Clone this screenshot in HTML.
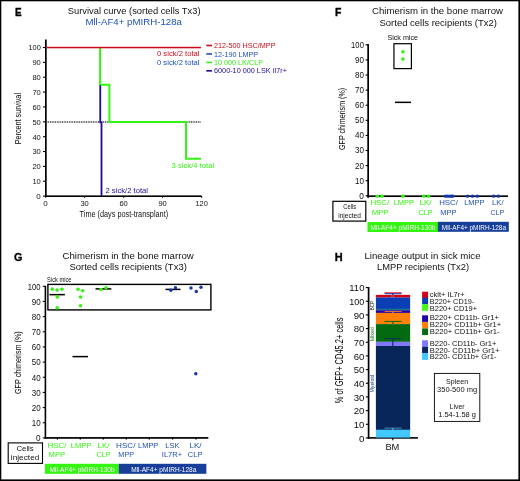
<!DOCTYPE html>
<html><head><meta charset="utf-8"><title>Figure</title>
<style>
html,body{margin:0;padding:0;background:#fff;}
body{width:520px;height:481px;overflow:hidden;position:relative;font-family:"Liberation Sans",sans-serif;}
svg{position:absolute;left:0;top:0;display:block;will-change:transform;}
svg text{font-family:"Liberation Sans",sans-serif;}
</style></head><body>
<svg width="520" height="481" viewBox="0 0 520 481">
<rect x="0" y="0" width="520" height="481" fill="#fff"/>
<rect x="0" y="0" width="520" height="1.3" fill="#000"/>
<rect x="0" y="0" width="1.3" height="481" fill="#000"/>
<rect x="518.4" y="0" width="1.6" height="481" fill="#000"/>
<rect x="0" y="479.4" width="520" height="1.6" fill="#000"/>
<text x="14.9" y="16" font-size="11" fill="#000" textLength="6.6" lengthAdjust="spacingAndGlyphs" font-weight="bold" stroke="#000" stroke-width="0.35">E</text>
<text x="67.8" y="14.1" font-size="9" fill="#111" textLength="132.7" lengthAdjust="spacingAndGlyphs" >Survival curve (sorted cells Tx3)</text>
<text x="85.4" y="24.5" font-size="9" fill="#1f50b8" textLength="96.6" lengthAdjust="spacingAndGlyphs" >Mll-AF4+ pMIRH-128a</text>
<rect x="45" y="39.5" width="1.7" height="157.5" fill="#000"/>
<rect x="45" y="195.4" width="156.4" height="1.6" fill="#000"/>
<line x1="43" y1="196.1" x2="45.5" y2="196.1" stroke="#000" stroke-width="1.1" />
<text x="40.8" y="199.0" font-size="8" fill="#111" text-anchor="end" >0</text>
<line x1="43" y1="181.24" x2="45.5" y2="181.24" stroke="#000" stroke-width="1.1" />
<text x="40.8" y="184.14000000000001" font-size="8" fill="#111" text-anchor="end" textLength="8.4" lengthAdjust="spacingAndGlyphs" >10</text>
<line x1="43" y1="166.38" x2="45.5" y2="166.38" stroke="#000" stroke-width="1.1" />
<text x="40.8" y="169.28" font-size="8" fill="#111" text-anchor="end" textLength="8.4" lengthAdjust="spacingAndGlyphs" >20</text>
<line x1="43" y1="151.51999999999998" x2="45.5" y2="151.51999999999998" stroke="#000" stroke-width="1.1" />
<text x="40.8" y="154.42" font-size="8" fill="#111" text-anchor="end" textLength="8.4" lengthAdjust="spacingAndGlyphs" >30</text>
<line x1="43" y1="136.66" x2="45.5" y2="136.66" stroke="#000" stroke-width="1.1" />
<text x="40.8" y="139.56" font-size="8" fill="#111" text-anchor="end" textLength="8.4" lengthAdjust="spacingAndGlyphs" >40</text>
<line x1="43" y1="121.8" x2="45.5" y2="121.8" stroke="#000" stroke-width="1.1" />
<text x="40.8" y="124.7" font-size="8" fill="#111" text-anchor="end" textLength="8.4" lengthAdjust="spacingAndGlyphs" >50</text>
<line x1="43" y1="106.94" x2="45.5" y2="106.94" stroke="#000" stroke-width="1.1" />
<text x="40.8" y="109.84" font-size="8" fill="#111" text-anchor="end" textLength="8.4" lengthAdjust="spacingAndGlyphs" >60</text>
<line x1="43" y1="92.08" x2="45.5" y2="92.08" stroke="#000" stroke-width="1.1" />
<text x="40.8" y="94.98" font-size="8" fill="#111" text-anchor="end" textLength="8.4" lengthAdjust="spacingAndGlyphs" >70</text>
<line x1="43" y1="77.22" x2="45.5" y2="77.22" stroke="#000" stroke-width="1.1" />
<text x="40.8" y="80.12" font-size="8" fill="#111" text-anchor="end" textLength="8.4" lengthAdjust="spacingAndGlyphs" >80</text>
<line x1="43" y1="62.359999999999985" x2="45.5" y2="62.359999999999985" stroke="#000" stroke-width="1.1" />
<text x="40.8" y="65.25999999999999" font-size="8" fill="#111" text-anchor="end" textLength="8.4" lengthAdjust="spacingAndGlyphs" >90</text>
<line x1="43" y1="47.5" x2="45.5" y2="47.5" stroke="#000" stroke-width="1.1" />
<text x="40.8" y="50.4" font-size="8" fill="#111" text-anchor="end" textLength="12.4" lengthAdjust="spacingAndGlyphs" >100</text>
<line x1="45.6" y1="196" x2="45.6" y2="197.8" stroke="#000" stroke-width="1.1" />
<text x="45.6" y="206.2" font-size="8" fill="#111" text-anchor="middle" >0</text>
<line x1="84.6" y1="196" x2="84.6" y2="197.8" stroke="#000" stroke-width="1.1" />
<text x="84.6" y="206.2" font-size="8" fill="#111" text-anchor="middle" textLength="8.4" lengthAdjust="spacingAndGlyphs" >30</text>
<line x1="123.6" y1="196" x2="123.6" y2="197.8" stroke="#000" stroke-width="1.1" />
<text x="123.6" y="206.2" font-size="8" fill="#111" text-anchor="middle" textLength="8.4" lengthAdjust="spacingAndGlyphs" >60</text>
<line x1="162.6" y1="196" x2="162.6" y2="197.8" stroke="#000" stroke-width="1.1" />
<text x="162.6" y="206.2" font-size="8" fill="#111" text-anchor="middle" textLength="8.4" lengthAdjust="spacingAndGlyphs" >90</text>
<line x1="201.6" y1="196" x2="201.6" y2="197.8" stroke="#000" stroke-width="1.1" />
<text x="201.6" y="206.2" font-size="8" fill="#111" text-anchor="middle" textLength="12.4" lengthAdjust="spacingAndGlyphs" >120</text>
<text x="21.3" y="144.3" font-size="8.8" fill="#000" textLength="51.3" lengthAdjust="spacingAndGlyphs" transform="rotate(-90 21.3 144.3)" >Percent survival</text>
<text x="79.6" y="217.3" font-size="8.8" fill="#111" textLength="88.5" lengthAdjust="spacingAndGlyphs" >Time (days post-transplant)</text>
<line x1="46.5" y1="122.05" x2="200.6" y2="122.05" stroke="#222" stroke-width="1.6" stroke-dasharray="0.9 0.82"/>
<polyline fill="none" stroke="#33f510" stroke-width="2" points="100.1,47.5 100.1,84.7 109.4,84.7 109.4,121.95 186,121.95 186,158.85 201,158.85"/>
<rect x="46.5" y="46.8" width="154.4" height="1.5" fill="#cc0a1a"/>
<polyline fill="none" stroke="#1d0c9c" stroke-width="1.8" points="100.25,85.2 100.25,122.3 101.5,122.3 101.5,196.1"/>
<text x="199.5" y="56.3" font-size="7" fill="#cc0a1a" text-anchor="end" textLength="42.5" lengthAdjust="spacingAndGlyphs" >0 sick/2 total</text>
<text x="199.5" y="65" font-size="7" fill="#1f50b8" text-anchor="end" textLength="42.5" lengthAdjust="spacingAndGlyphs" >0 sick/2 total</text>
<text x="171.6" y="168.1" font-size="7" fill="#33f510" textLength="42.5" lengthAdjust="spacingAndGlyphs" >3 sick/4 total</text>
<text x="105.5" y="193" font-size="7" fill="#1d0c9c" textLength="42.5" lengthAdjust="spacingAndGlyphs" >2 sick/2 total</text>
<rect x="206.3" y="44.7" width="5.7" height="1.6" fill="#cc0a1a"/>
<text x="214" y="48.1" font-size="7.2" fill="#cc0a1a" textLength="61.5" lengthAdjust="spacingAndGlyphs" >212-500 HSC/MPP</text>
<rect x="206.3" y="53.15" width="5.7" height="1.6" fill="#1f50b8"/>
<text x="214" y="56.550000000000004" font-size="7.2" fill="#1f50b8" textLength="44" lengthAdjust="spacingAndGlyphs" >12-190 LMPP</text>
<rect x="206.3" y="61.6" width="5.7" height="1.6" fill="#33f510"/>
<text x="214" y="65.0" font-size="7.2" fill="#33f510" textLength="49" lengthAdjust="spacingAndGlyphs" >10 000 LK/CLP</text>
<rect x="206.3" y="70.05" width="5.7" height="1.6" fill="#1d0c9c"/>
<text x="214" y="73.44999999999999" font-size="7.2" fill="#1d0c9c" textLength="73" lengthAdjust="spacingAndGlyphs" >6000-10 000 LSK Il7r+</text>
<text x="334.9" y="16" font-size="11" fill="#000" textLength="6.4" lengthAdjust="spacingAndGlyphs" font-weight="bold" stroke="#000" stroke-width="0.35">F</text>
<text x="372" y="14.1" font-size="9" fill="#111" textLength="131" lengthAdjust="spacingAndGlyphs" >Chimerism in the bone marrow</text>
<text x="379.5" y="25.5" font-size="9" fill="#111" textLength="117.5" lengthAdjust="spacingAndGlyphs" >Sorted cells recipients (Tx2)</text>
<rect x="367.3" y="44.1" width="1.7" height="153.7" fill="#000"/>
<rect x="367.3" y="195.35" width="140.6" height="1.7" fill="#000"/>
<rect x="365.6" y="195.25" width="2.4" height="1.1" fill="#000"/>
<text x="363.9" y="198.70000000000002" font-size="8.3" fill="#111" text-anchor="end" >0</text>
<rect x="365.6" y="180.15" width="2.4" height="1.1" fill="#000"/>
<text x="363.9" y="183.60000000000002" font-size="8.3" fill="#111" text-anchor="end" textLength="9" lengthAdjust="spacingAndGlyphs" >10</text>
<rect x="365.6" y="165.05" width="2.4" height="1.1" fill="#000"/>
<text x="363.9" y="168.50000000000003" font-size="8.3" fill="#111" text-anchor="end" textLength="9" lengthAdjust="spacingAndGlyphs" >20</text>
<rect x="365.6" y="149.95" width="2.4" height="1.1" fill="#000"/>
<text x="363.9" y="153.4" font-size="8.3" fill="#111" text-anchor="end" textLength="9" lengthAdjust="spacingAndGlyphs" >30</text>
<rect x="365.6" y="134.85" width="2.4" height="1.1" fill="#000"/>
<text x="363.9" y="138.3" font-size="8.3" fill="#111" text-anchor="end" textLength="9" lengthAdjust="spacingAndGlyphs" >40</text>
<rect x="365.6" y="119.75" width="2.4" height="1.1" fill="#000"/>
<text x="363.9" y="123.20000000000002" font-size="8.3" fill="#111" text-anchor="end" textLength="9" lengthAdjust="spacingAndGlyphs" >50</text>
<rect x="365.6" y="104.65" width="2.4" height="1.1" fill="#000"/>
<text x="363.9" y="108.10000000000002" font-size="8.3" fill="#111" text-anchor="end" textLength="9" lengthAdjust="spacingAndGlyphs" >60</text>
<rect x="365.6" y="89.55" width="2.4" height="1.1" fill="#000"/>
<text x="363.9" y="93.00000000000001" font-size="8.3" fill="#111" text-anchor="end" textLength="9" lengthAdjust="spacingAndGlyphs" >70</text>
<rect x="365.6" y="74.45" width="2.4" height="1.1" fill="#000"/>
<text x="363.9" y="77.90000000000002" font-size="8.3" fill="#111" text-anchor="end" textLength="9" lengthAdjust="spacingAndGlyphs" >80</text>
<rect x="365.6" y="59.35" width="2.4" height="1.1" fill="#000"/>
<text x="363.9" y="62.800000000000004" font-size="8.3" fill="#111" text-anchor="end" textLength="9" lengthAdjust="spacingAndGlyphs" >90</text>
<rect x="365.6" y="44.25" width="2.4" height="1.1" fill="#000"/>
<text x="363.9" y="47.70000000000001" font-size="8.3" fill="#111" text-anchor="end" textLength="12.8" lengthAdjust="spacingAndGlyphs" >100</text>
<text x="345" y="150" font-size="9" fill="#000" textLength="62.2" lengthAdjust="spacingAndGlyphs" transform="rotate(-90 345 150)" >GFP chimerism (%)</text>
<text x="387.4" y="40.3" font-size="7.3" fill="#111" textLength="30.6" lengthAdjust="spacingAndGlyphs" >Sick mice</text>
<rect x="393.95" y="43.7" width="17.45" height="24.9" fill="none" stroke="#000" stroke-width="1.2"/>
<circle cx="402.9" cy="51.8" r="1.8" fill="#33f510"/>
<circle cx="402.9" cy="59.1" r="1.8" fill="#33f510"/>
<rect x="395" y="101.6" width="16" height="1.5" fill="#000"/>
<circle cx="377.3" cy="196.15" r="1.75" fill="#33f510"/>
<circle cx="382.1" cy="196.15" r="1.75" fill="#33f510"/>
<circle cx="402.9" cy="196.15" r="1.75" fill="#33f510"/>
<circle cx="423.75" cy="196.15" r="1.75" fill="#33f510"/>
<circle cx="428.5" cy="196.15" r="1.75" fill="#33f510"/>
<circle cx="445.5" cy="196.15" r="1.7" fill="#1235b0"/>
<circle cx="447.5" cy="196.15" r="1.7" fill="#1235b0"/>
<circle cx="449.5" cy="196.15" r="1.7" fill="#1235b0"/>
<circle cx="451.5" cy="196.15" r="1.7" fill="#1235b0"/>
<circle cx="452.7" cy="196.15" r="1.7" fill="#1235b0"/>
<circle cx="467.5" cy="196.15" r="1.7" fill="#1235b0"/>
<circle cx="472.4" cy="196.15" r="1.7" fill="#1235b0"/>
<circle cx="477.3" cy="196.15" r="1.7" fill="#1235b0"/>
<circle cx="493.6" cy="196.15" r="1.7" fill="#1235b0"/>
<circle cx="498.4" cy="196.15" r="1.7" fill="#1235b0"/>
<rect x="332.9" y="201.3" width="32.9" height="19.8" fill="#fff" stroke="#000" stroke-width="1.2"/>
<text x="349.8" y="208.7" font-size="7.4" fill="#111" text-anchor="middle" textLength="12.9" lengthAdjust="spacingAndGlyphs" >Cells</text>
<text x="349.5" y="217.7" font-size="7.4" fill="#111" text-anchor="middle" textLength="22.6" lengthAdjust="spacingAndGlyphs" >injected</text>
<text x="370.4" y="205.4" font-size="7.8" fill="#33f510" textLength="18.9" lengthAdjust="spacingAndGlyphs" >HSC/</text>
<text x="371.7" y="214.8" font-size="7.8" fill="#33f510" textLength="16.8" lengthAdjust="spacingAndGlyphs" >MPP</text>
<text x="393.7" y="205.4" font-size="7.8" fill="#33f510" textLength="20.4" lengthAdjust="spacingAndGlyphs" >LMPP</text>
<text x="419.5" y="205.4" font-size="7.8" fill="#33f510" textLength="12.1" lengthAdjust="spacingAndGlyphs" >LK/</text>
<text x="418.5" y="214.8" font-size="7.8" fill="#33f510" textLength="14.1" lengthAdjust="spacingAndGlyphs" >CLP</text>
<text x="439.2" y="205.4" font-size="7.8" fill="#1f50b8" textLength="18.8" lengthAdjust="spacingAndGlyphs" >HSC/</text>
<text x="440.3" y="214.8" font-size="7.8" fill="#1f50b8" textLength="16.2" lengthAdjust="spacingAndGlyphs" >MPP</text>
<text x="464.2" y="205.4" font-size="7.8" fill="#1f50b8" textLength="20.2" lengthAdjust="spacingAndGlyphs" >LMPP</text>
<text x="492.1" y="205.4" font-size="7.8" fill="#1f50b8" textLength="11.4" lengthAdjust="spacingAndGlyphs" >LK/</text>
<text x="490.4" y="214.8" font-size="7.8" fill="#1f50b8" textLength="13.7" lengthAdjust="spacingAndGlyphs" >CLP</text>
<rect x="367.5" y="222" width="70.5" height="10" fill="#33f510"/>
<rect x="437.9" y="221.8" width="70.9" height="10" fill="#173f9a"/>
<text x="370.5" y="229.5" font-size="7.6" fill="#fff" textLength="65" lengthAdjust="spacingAndGlyphs" >Mll-AF4+ pMIRH-130b</text>
<text x="441.8" y="229.5" font-size="7.6" fill="#fff" textLength="64.2" lengthAdjust="spacingAndGlyphs" >Mll-AF4+ pMIRH-128a</text>
<text x="14.1" y="260.6" font-size="11" fill="#000" textLength="8.4" lengthAdjust="spacingAndGlyphs" font-weight="bold" stroke="#000" stroke-width="0.35">G</text>
<text x="62.5" y="259" font-size="9" fill="#111" textLength="131.2" lengthAdjust="spacingAndGlyphs" >Chimerism in the bone marrow</text>
<text x="69.5" y="270.3" font-size="9" fill="#111" textLength="117.3" lengthAdjust="spacingAndGlyphs" >Sorted cells recipients (Tx3)</text>
<rect x="44.6" y="285.8" width="1.6" height="152.9" fill="#000"/>
<rect x="44.6" y="437.05" width="163.7" height="1.7" fill="#000"/>
<rect x="42.8" y="437.35" width="2.2" height="1.1" fill="#000"/>
<text x="40.6" y="441.2" font-size="8.2" fill="#111" text-anchor="end" >0</text>
<rect x="42.8" y="422.19" width="2.2" height="1.1" fill="#000"/>
<text x="40.6" y="426.03999999999996" font-size="8.2" fill="#111" text-anchor="end" textLength="8.9" lengthAdjust="spacingAndGlyphs" >10</text>
<rect x="42.8" y="407.03" width="2.2" height="1.1" fill="#000"/>
<text x="40.6" y="410.88" font-size="8.2" fill="#111" text-anchor="end" textLength="8.9" lengthAdjust="spacingAndGlyphs" >20</text>
<rect x="42.8" y="391.87" width="2.2" height="1.1" fill="#000"/>
<text x="40.6" y="395.71999999999997" font-size="8.2" fill="#111" text-anchor="end" textLength="8.9" lengthAdjust="spacingAndGlyphs" >30</text>
<rect x="42.8" y="376.71" width="2.2" height="1.1" fill="#000"/>
<text x="40.6" y="380.56" font-size="8.2" fill="#111" text-anchor="end" textLength="8.9" lengthAdjust="spacingAndGlyphs" >40</text>
<rect x="42.8" y="361.55" width="2.2" height="1.1" fill="#000"/>
<text x="40.6" y="365.4" font-size="8.2" fill="#111" text-anchor="end" textLength="8.9" lengthAdjust="spacingAndGlyphs" >50</text>
<rect x="42.8" y="346.39" width="2.2" height="1.1" fill="#000"/>
<text x="40.6" y="350.23999999999995" font-size="8.2" fill="#111" text-anchor="end" textLength="8.9" lengthAdjust="spacingAndGlyphs" >60</text>
<rect x="42.8" y="331.23" width="2.2" height="1.1" fill="#000"/>
<text x="40.6" y="335.08" font-size="8.2" fill="#111" text-anchor="end" textLength="8.9" lengthAdjust="spacingAndGlyphs" >70</text>
<rect x="42.8" y="316.07" width="2.2" height="1.1" fill="#000"/>
<text x="40.6" y="319.92" font-size="8.2" fill="#111" text-anchor="end" textLength="8.9" lengthAdjust="spacingAndGlyphs" >80</text>
<rect x="42.8" y="300.91" width="2.2" height="1.1" fill="#000"/>
<text x="40.6" y="304.76" font-size="8.2" fill="#111" text-anchor="end" textLength="8.9" lengthAdjust="spacingAndGlyphs" >90</text>
<rect x="42.8" y="285.75" width="2.2" height="1.1" fill="#000"/>
<text x="40.6" y="289.59999999999997" font-size="8.2" fill="#111" text-anchor="end" textLength="12.8" lengthAdjust="spacingAndGlyphs" >100</text>
<rect x="56.85" y="438" width="1.1" height="1.6" fill="#000"/>
<rect x="79.75" y="438" width="1.1" height="1.6" fill="#000"/>
<rect x="102.75" y="438" width="1.1" height="1.6" fill="#000"/>
<rect x="125.75" y="438" width="1.1" height="1.6" fill="#000"/>
<rect x="148.75" y="438" width="1.1" height="1.6" fill="#000"/>
<rect x="172.05" y="438" width="1.1" height="1.6" fill="#000"/>
<rect x="195.45" y="438" width="1.1" height="1.6" fill="#000"/>
<text x="20.9" y="394" font-size="9" fill="#000" textLength="62.7" lengthAdjust="spacingAndGlyphs" transform="rotate(-90 20.9 394)" >GFP chimerism (%)</text>
<text x="47.1" y="281.5" font-size="7.4" fill="#111" textLength="24.3" lengthAdjust="spacingAndGlyphs" >Sick mice</text>
<rect x="47.9" y="284.4" width="163" height="25.5" fill="none" stroke="#000" stroke-width="1.4"/>
<rect x="49.5" y="293.9" width="15.4" height="1.5" fill="#000"/>
<rect x="72.5" y="355.85" width="15.5" height="1.5" fill="#000"/>
<rect x="95.5" y="288.15" width="15.8" height="1.5" fill="#000"/>
<rect x="165.5" y="288.65" width="15.0" height="1.5" fill="#000"/>
<circle cx="52.2" cy="289.1" r="1.8" fill="#33f510"/>
<circle cx="57" cy="290.1" r="1.8" fill="#33f510"/>
<circle cx="62" cy="289.2" r="1.8" fill="#33f510"/>
<circle cx="57.2" cy="296.9" r="1.8" fill="#33f510"/>
<circle cx="57.2" cy="307.7" r="1.8" fill="#33f510"/>
<circle cx="78" cy="289.3" r="1.8" fill="#33f510"/>
<circle cx="82.8" cy="290.8" r="1.8" fill="#33f510"/>
<circle cx="80.5" cy="297" r="1.8" fill="#33f510"/>
<circle cx="80.5" cy="305.8" r="1.8" fill="#33f510"/>
<circle cx="101" cy="289.5" r="1.8" fill="#33f510"/>
<circle cx="106" cy="287.8" r="1.8" fill="#33f510"/>
<circle cx="170.8" cy="290.3" r="1.7" fill="#1235b0"/>
<circle cx="175.5" cy="287.8" r="1.7" fill="#1235b0"/>
<circle cx="191" cy="288" r="1.7" fill="#1235b0"/>
<circle cx="196.3" cy="291.5" r="1.7" fill="#1235b0"/>
<circle cx="201" cy="287.3" r="1.7" fill="#1235b0"/>
<circle cx="195.8" cy="373.8" r="1.7" fill="#1235b0"/>
<rect x="8.2" y="442.9" width="34.3" height="20.5" fill="#fff" stroke="#000" stroke-width="1.1"/>
<text x="25.1" y="450.8" font-size="7.6" fill="#111" text-anchor="middle" textLength="17.3" lengthAdjust="spacingAndGlyphs" >Cells</text>
<text x="25.1" y="460" font-size="7.6" fill="#111" text-anchor="middle" textLength="28.5" lengthAdjust="spacingAndGlyphs" >injected</text>
<text x="47.4" y="447.9" font-size="7.8" fill="#33f510" textLength="19.0" lengthAdjust="spacingAndGlyphs" >HSC/</text>
<text x="48.6" y="457.4" font-size="7.8" fill="#33f510" textLength="16.6" lengthAdjust="spacingAndGlyphs" >MPP</text>
<text x="70.75" y="447.9" font-size="7.8" fill="#33f510" textLength="20.7" lengthAdjust="spacingAndGlyphs" >LMPP</text>
<text x="97.6" y="447.9" font-size="7.8" fill="#33f510" textLength="12.0" lengthAdjust="spacingAndGlyphs" >LK/</text>
<text x="96.4" y="457.4" font-size="7.8" fill="#33f510" textLength="14.1" lengthAdjust="spacingAndGlyphs" >CLP</text>
<text x="116.1" y="447.9" font-size="7.8" fill="#1f50b8" textLength="19.3" lengthAdjust="spacingAndGlyphs" >HSC/</text>
<text x="118.35" y="457.4" font-size="7.8" fill="#1f50b8" textLength="15.7" lengthAdjust="spacingAndGlyphs" >MPP</text>
<text x="138.1" y="447.9" font-size="7.8" fill="#1f50b8" textLength="20.2" lengthAdjust="spacingAndGlyphs" >LMPP</text>
<text x="165.3" y="447.9" font-size="7.8" fill="#1f50b8" textLength="14.1" lengthAdjust="spacingAndGlyphs" >LSK</text>
<text x="161.8" y="457.4" font-size="7.8" fill="#1f50b8" textLength="20.4" lengthAdjust="spacingAndGlyphs" >IL7R+</text>
<text x="189.5" y="447.9" font-size="7.8" fill="#1f50b8" textLength="12.1" lengthAdjust="spacingAndGlyphs" >LK/</text>
<text x="187.8" y="457.4" font-size="7.8" fill="#1f50b8" textLength="14.6" lengthAdjust="spacingAndGlyphs" >CLP</text>
<rect x="44.85" y="463.8" width="73.9" height="10" fill="#33f510"/>
<rect x="118.75" y="463.8" width="87.6" height="10" fill="#173f9a"/>
<text x="49.6" y="471.5" font-size="7.6" fill="#fff" textLength="65" lengthAdjust="spacingAndGlyphs" >Mll-AF4+ pMIRH-130b</text>
<text x="131.2" y="471.5" font-size="7.6" fill="#fff" textLength="65.2" lengthAdjust="spacingAndGlyphs" >Mll-AF4+ pMIRH-128a</text>
<text x="334.7" y="260.6" font-size="11" fill="#000" textLength="7.9" lengthAdjust="spacingAndGlyphs" font-weight="bold" stroke="#000" stroke-width="0.35">H</text>
<text x="364.5" y="259" font-size="9" fill="#111" textLength="116" lengthAdjust="spacingAndGlyphs" >Lineage output in sick mice</text>
<text x="377" y="270.3" font-size="9" fill="#111" textLength="92" lengthAdjust="spacingAndGlyphs" >LMPP recipients (Tx2)</text>
<rect x="367.75" y="287" width="1.7" height="151.7" fill="#000"/>
<rect x="367.7" y="437.1" width="50.2" height="1.6" fill="#000"/>
<rect x="365.8" y="437.4" width="2.7" height="1.1" fill="#000"/>
<text x="364.4" y="441.65" font-size="9.8" fill="#111" text-anchor="end" >0</text>
<rect x="365.8" y="423.73" width="2.7" height="1.1" fill="#000"/>
<text x="364.4" y="427.97999999999996" font-size="9.8" fill="#111" text-anchor="end" textLength="10.7" lengthAdjust="spacingAndGlyphs" >10</text>
<rect x="365.8" y="410.06" width="2.7" height="1.1" fill="#000"/>
<text x="364.4" y="414.31" font-size="9.8" fill="#111" text-anchor="end" textLength="10.7" lengthAdjust="spacingAndGlyphs" >20</text>
<rect x="365.8" y="396.39" width="2.7" height="1.1" fill="#000"/>
<text x="364.4" y="400.64" font-size="9.8" fill="#111" text-anchor="end" textLength="10.7" lengthAdjust="spacingAndGlyphs" >30</text>
<rect x="365.8" y="382.72" width="2.7" height="1.1" fill="#000"/>
<text x="364.4" y="386.96999999999997" font-size="9.8" fill="#111" text-anchor="end" textLength="10.7" lengthAdjust="spacingAndGlyphs" >40</text>
<rect x="365.8" y="369.05" width="2.7" height="1.1" fill="#000"/>
<text x="364.4" y="373.3" font-size="9.8" fill="#111" text-anchor="end" textLength="10.7" lengthAdjust="spacingAndGlyphs" >50</text>
<rect x="365.8" y="355.38" width="2.7" height="1.1" fill="#000"/>
<text x="364.4" y="359.63" font-size="9.8" fill="#111" text-anchor="end" textLength="10.7" lengthAdjust="spacingAndGlyphs" >60</text>
<rect x="365.8" y="341.71" width="2.7" height="1.1" fill="#000"/>
<text x="364.4" y="345.96" font-size="9.8" fill="#111" text-anchor="end" textLength="10.7" lengthAdjust="spacingAndGlyphs" >70</text>
<rect x="365.8" y="328.04" width="2.7" height="1.1" fill="#000"/>
<text x="364.4" y="332.28999999999996" font-size="9.8" fill="#111" text-anchor="end" textLength="10.7" lengthAdjust="spacingAndGlyphs" >80</text>
<rect x="365.8" y="314.37" width="2.7" height="1.1" fill="#000"/>
<text x="364.4" y="318.61999999999995" font-size="9.8" fill="#111" text-anchor="end" textLength="10.7" lengthAdjust="spacingAndGlyphs" >90</text>
<rect x="365.8" y="300.7" width="2.7" height="1.1" fill="#000"/>
<text x="364.4" y="304.95" font-size="9.8" fill="#111" text-anchor="end" textLength="15.1" lengthAdjust="spacingAndGlyphs" >100</text>
<rect x="365.8" y="287.03" width="2.7" height="1.1" fill="#000"/>
<text x="364.4" y="291.28" font-size="9.8" fill="#111" text-anchor="end" textLength="15.1" lengthAdjust="spacingAndGlyphs" >110</text>
<rect x="392.25" y="438" width="1.1" height="2.3" fill="#000"/>
<text x="343.1" y="403.3" font-size="10" fill="#000" textLength="85.7" lengthAdjust="spacingAndGlyphs" transform="rotate(-90 343.1 403.3)" >% of GFP+ CD45.2+ cells</text>
<rect x="375.9" y="294.85" width="34.25" height="2.7" fill="#d40012"/>
<rect x="375.9" y="297.5" width="34.25" height="11.45" fill="#0b3db5"/>
<rect x="375.9" y="308.9" width="34.25" height="1.35" fill="#117a80"/>
<rect x="375.9" y="310.2" width="34.25" height="2.75" fill="#2200aa"/>
<rect x="375.9" y="312.9" width="34.25" height="11.25" fill="#ff8008"/>
<rect x="375.9" y="324.1" width="34.25" height="17.75" fill="#046a10"/>
<rect x="375.9" y="341.8" width="34.25" height="4.25" fill="#8078ff"/>
<rect x="375.9" y="346" width="34.25" height="83.9" fill="#08265a"/>
<rect x="375.9" y="429.85" width="34.25" height="7.7" fill="#40c8ff"/>
<rect x="384.5" y="292.3" width="17.1" height="0.8" fill="#e0102a"/>
<rect x="391.7" y="293.7" width="2.3" height="3.9" fill="#ee8a96"/>
<rect x="384.5" y="293.2" width="17.1" height="1.0" fill="#1a2a9a"/>
<rect x="392.3" y="293.7" width="1.1" height="3.9" fill="#1a2a9a"/>
<rect x="384.5" y="311.0" width="17.1" height="0.8" fill="#ff8822"/>
<rect x="392.3" y="311.4" width="1.1" height="1.6" fill="#ff8822"/>
<rect x="391.7" y="321.4" width="2.3" height="2.8" fill="#c08a10"/>
<rect x="384.5" y="320.9" width="17.1" height="1.0" fill="#0d6a14"/>
<rect x="392.3" y="321.4" width="1.1" height="2.8" fill="#0d6a14"/>
<rect x="384.5" y="338.2" width="17.1" height="1.0" fill="#0a2a5a"/>
<rect x="392.3" y="338.7" width="1.1" height="7.4" fill="#0a2a5a"/>
<rect x="384.5" y="427.75" width="17.1" height="0.7" fill="#58c4f0"/>
<rect x="392.3" y="428.1" width="1.1" height="1.8" fill="#58c4f0"/>
<text x="373.6" y="310.2" font-size="5" fill="#222" textLength="9.2" lengthAdjust="spacingAndGlyphs" transform="rotate(-90 373.6 310.2)" >BCP</text>
<text x="373.6" y="341.3" font-size="5" fill="#0f7a0f" textLength="14.3" lengthAdjust="spacingAndGlyphs" transform="rotate(-90 373.6 341.3)" >Mixed</text>
<text x="374.3" y="392.5" font-size="5" fill="#123f85" textLength="18" lengthAdjust="spacingAndGlyphs" transform="rotate(-90 374.3 392.5)" >Myeloid</text>
<text x="392.4" y="449.7" font-size="9" fill="#111" text-anchor="middle" textLength="14" lengthAdjust="spacingAndGlyphs" >BM</text>
<rect x="422.1" y="291.7" width="5.95" height="6.6" fill="#d40012"/>
<text x="429.8" y="296.8" font-size="7.6" fill="#111" textLength="34.8" lengthAdjust="spacingAndGlyphs" >ckit+ IL7r+</text>
<rect x="422.1" y="297.7" width="5.95" height="6.6" fill="#0b3db5"/>
<text x="429.8" y="303.65000000000003" font-size="7.6" fill="#111" textLength="44.4" lengthAdjust="spacingAndGlyphs" >B220+ CD19-</text>
<rect x="422.1" y="304.2" width="5.95" height="6.6" fill="#40fa12"/>
<text x="429.8" y="310.5" font-size="7.6" fill="#111" textLength="47.2" lengthAdjust="spacingAndGlyphs" >B220+ CD19+</text>
<rect x="422.1" y="315.3" width="5.95" height="6.6" fill="#2200aa"/>
<text x="429.8" y="320.45" font-size="7.6" fill="#111" textLength="69.1" lengthAdjust="spacingAndGlyphs" >B220+ CD11b- Gr1+</text>
<rect x="422.1" y="322" width="5.95" height="6.6" fill="#ff8008"/>
<text x="429.8" y="327.40000000000003" font-size="7.6" fill="#111" textLength="71.4" lengthAdjust="spacingAndGlyphs" >B220+ CD11b+ Gr1+</text>
<rect x="422.1" y="328.5" width="5.95" height="6.6" fill="#046a10"/>
<text x="429.8" y="334.3" font-size="7.6" fill="#111" textLength="69.7" lengthAdjust="spacingAndGlyphs" >B220+ CD11b+ Gr1-</text>
<rect x="422.1" y="340.3" width="5.95" height="6.6" fill="#8078ff"/>
<text x="429.8" y="345.90000000000003" font-size="7.6" fill="#111" textLength="66.6" lengthAdjust="spacingAndGlyphs" >B220- CD11b- Gr1+</text>
<rect x="422.1" y="346.8" width="5.95" height="6.6" fill="#08265a"/>
<text x="429.8" y="352.5" font-size="7.6" fill="#111" textLength="69.7" lengthAdjust="spacingAndGlyphs" >B220- CD11b+ Gr1+</text>
<rect x="422.1" y="353.3" width="5.95" height="6.6" fill="#40c8ff"/>
<text x="429.8" y="359.0" font-size="7.6" fill="#111" textLength="66.6" lengthAdjust="spacingAndGlyphs" >B220- CD11b+ Gr1-</text>
<rect x="434.4" y="373.4" width="45.4" height="48" fill="#fff" stroke="#000" stroke-width="0.9"/>
<text x="457.1" y="383.5" font-size="7.2" fill="#111" text-anchor="middle" textLength="22" lengthAdjust="spacingAndGlyphs" >Spleen</text>
<text x="457.1" y="392.3" font-size="7.2" fill="#111" text-anchor="middle" textLength="40" lengthAdjust="spacingAndGlyphs" >350-500 mg</text>
<text x="457.1" y="408.5" font-size="7.2" fill="#111" text-anchor="middle" textLength="15" lengthAdjust="spacingAndGlyphs" >Liver</text>
<text x="457.1" y="416.8" font-size="7.2" fill="#111" text-anchor="middle" textLength="37.7" lengthAdjust="spacingAndGlyphs" >1.54-1.58 g</text>
</svg>
</body></html>
